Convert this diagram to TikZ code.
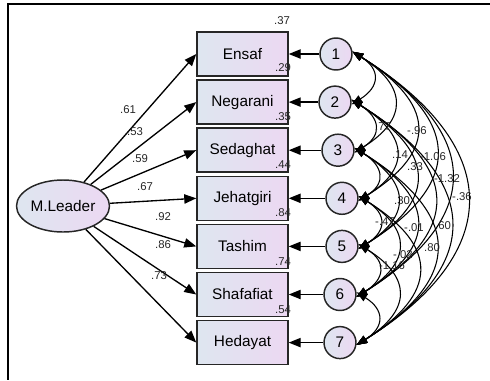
\documentclass[tikz,border=0pt]{standalone}
\usepackage{fontspec}
\setmainfont{Liberation Sans}
\usetikzlibrary{arrows.meta,shapes.geometric}
\definecolor{shadeL}{RGB}{222,230,240}
\definecolor{shadeR}{RGB}{236,216,242}
\begin{document}
\begin{tikzpicture}[x=0.75pt,y=-0.75pt,
  obs/.style={rectangle,draw=black!85,line width=1.1pt,minimum width=68.25pt,minimum height=33pt,
    inner sep=0pt,left color=shadeL,right color=shadeR,font=\fontsize{11.5}{13}\selectfont},
  err/.style={circle,draw=black!85,line width=1.1pt,minimum size=24pt,inner sep=0pt,
    left color=shadeL,right color=shadeR,font=\fontsize{11.5}{13}\selectfont},
  lat/.style={ellipse,draw=black!85,line width=1.1pt,minimum width=69.75pt,minimum height=39pt,
    inner sep=0pt,left color=shadeL,right color=shadeR,font=\fontsize{11.5}{13}\selectfont},
  load/.style={-{Triangle[length=9pt,width=7pt]},line width=1pt},
  cov/.style={{Triangle[length=8pt,width=6pt]}-{Triangle[length=8pt,width=6pt]},line width=0.8pt},
  est/.style={inner sep=0pt,text=black!85,font=\fontsize{8.5}{9}\selectfont}]
\useasboundingbox (0,0) rectangle (490,380);
% frame
\draw[line width=1.1pt] (490,4) -| (8,380);

% latent factor
\node[lat] (ml) at (63,206) {M.Leader};

% indicators
\node[obs] (b1) at (242.5,54.0)  {Ensaf};
\node[obs] (b2) at (242.5,102.1) {Negarani};
\node[obs] (b3) at (242.5,150.2) {Sedaghat};
\node[obs] (b4) at (242.5,198.3) {Jehatgiri};
\node[obs] (b5) at (242.5,246.4) {Tashim};
\node[obs] (b6) at (242.5,294.5) {Shafafiat};
\node[obs] (b7) at (242.5,342.6) {Hedayat};

% error terms
\node[err] (c1) at (336,54.0)  {1};
\node[err] (c2) at (335,102.1) {2};
\node[err] (c3) at (338,150.2) {3};
\node[err] (c4) at (342,198.3) {4};
\node[err] (c5) at (342,246.4) {5};
\node[err] (c6) at (340,294.5) {6};
\node[err] (c7) at (340,342.6) {7};

% loadings and error paths
\foreach \k in {1,...,7}{
  \draw[load] (ml) -- (b\k.west);
  \draw[load] (c\k) -- (b\k.east);
}

% error covariances
\foreach \i/\j/\d in {1/2/25,2/3/25,3/4/25,4/5/25,5/6/25,6/7/25,
                      1/3/48,2/4/48,3/5/48,4/6/48,5/7/48,
                      1/4/72,2/5/72,3/6/72,4/7/72,
                      1/5/95,2/6/95,3/7/95,
                      1/6/114,2/7/114,
                      1/7/133}{
  \draw[cov] (c\i.8) to[out=-32,in=32,distance=\d pt] (c\j.-8);
}

% squared multiple correlations
\node[est] (r1) at (282,21)  {.37};
\node[est] (r2) at (283,68)  {.29};
\node[est] (r3) at (283,117) {.35};
\node[est] (r4) at (283,165) {.44};
\node[est] (r5) at (283,213) {.84};
\node[est] (r6) at (283,262) {.74};
\node[est] (r7) at (283,310) {.54};

% standardized loadings
\node[est] (l1) at (128,110) {.61};
\node[est] (l2) at (135,132) {.53};
\node[est] (l3) at (140,159) {.59};
\node[est] (l4) at (145,187) {.67};
\node[est] (l5) at (163,217) {.92};
\node[est] (l6) at (163,245) {.86};
\node[est] (l7) at (159,276) {.73};

% correlation estimates
\node[est] (k1)  at (383,127) {.77};
\node[est] (k2)  at (417,131) {-.96};
\node[est] (k3)  at (400,155) {.14};
\node[est] (k4)  at (433,157) {-1.06};
\node[est] (k5)  at (415,167) {.33};
\node[est] (k6)  at (447,179) {-1.32};
\node[est] (k7)  at (462,197) {-.36};
\node[est] (k8)  at (402,201) {.30};
\node[est] (k9)  at (385,222) {-.47};
\node[est] (k10) at (414,228) {-.01};
\node[est] (k11) at (443,226) {.60};
\node[est] (k12) at (403,255) {-.02};
\node[est] (k13) at (432,248) {.80};
\node[est] (k14) at (392,266) {-1.16};
\end{tikzpicture}
\end{document}
